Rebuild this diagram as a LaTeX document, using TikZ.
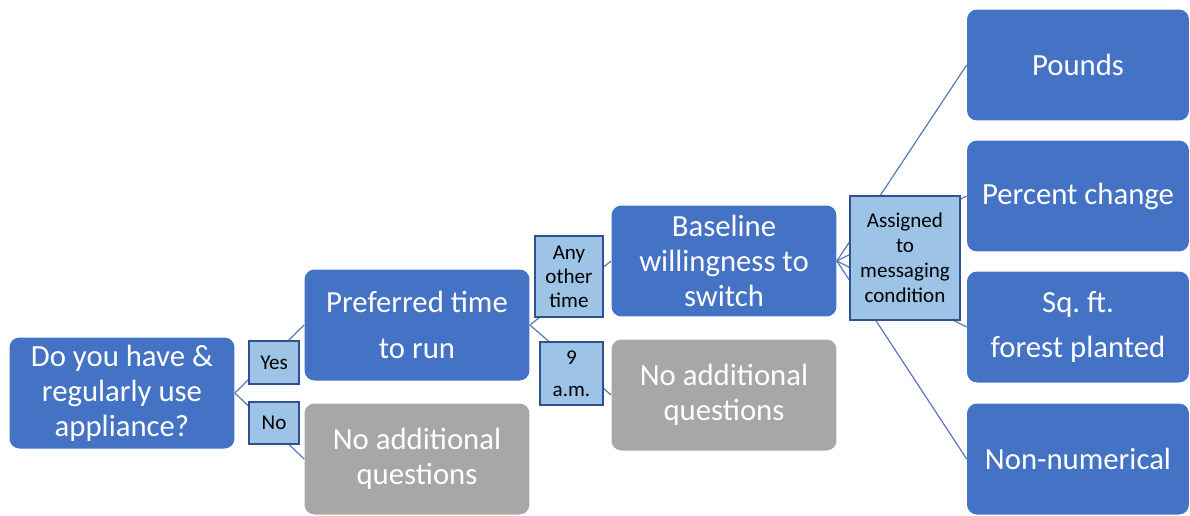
\documentclass[tikz,border=0pt]{standalone}
\usepackage{fontspec}
\setmainfont{Carlito}
\usepackage{tikz}
\usetikzlibrary{positioning}

\definecolor{boxblue}{HTML}{4472C4}
\definecolor{boxgray}{HTML}{A9A7A5}
\definecolor{tagfill}{HTML}{9DC3E6}
\definecolor{tagline}{HTML}{2F528F}
\definecolor{linkblue}{HTML}{5A7BB8}

\tikzset{
  qbox/.style={rounded corners=0.2cm, fill=boxblue, text=white, minimum width=4.5cm,
    minimum height=2.22cm, inner sep=2pt, align=center,
    font=\fontsize{17.5}{20}\selectfont},
  endbox/.style={qbox, fill=boxgray},
  tag/.style={draw=tagline, fill=tagfill, line width=0.6pt, inner sep=1pt,
    align=center, font=\fontsize{12}{14.2}\selectfont},
  link/.style={draw=linkblue, line width=0.7pt}
}

\begin{document}
\begin{tikzpicture}[x=0.02cm,y=-0.02cm]
      \useasboundingbox (0,0) rectangle (1190,515);
      % question boxes
      \node[qbox] (have) at (122,393) {Do you have \&\\regularly use\\appliance?};
      \node[qbox, font=\fontsize{17.5}{26.5}\selectfont] (pref) at (417,325) {Preferred time\\to run};
      \node[endbox] (none1) at (417,459) {No additional\\questions};
      \node[qbox] (base) at (724,261) {Baseline\\willingness to\\switch};
      \node[endbox] (none2) at (724,395) {No additional\\questions};
      % messaging conditions
      \node[qbox, minimum width=4.44cm] (lbs) at (1078,65) {Pounds};
      \node[qbox, minimum width=4.44cm] (pct) at (1078,196) {Percent change};
      \node[qbox, minimum width=4.44cm, font=\fontsize{17.5}{25.5}\selectfont] (sqft) at (1078,327) {Sq.\ ft.\\forest planted};
      \node[qbox, minimum width=4.44cm] (nonum) at (1078,459) {Non-numerical};
      % connectors
      \draw [link] (have.east) -- (pref.west);
      \draw [link] (have.east) -- (none1.west);
      \draw [link] (pref.east) -- (base.west);
      \draw [link] (pref.east) -- (none2.west);
      \draw [link] (base.east) -- (lbs.west);
      \draw [link] (base.east) -- (pct.west);
      \draw [link] (base.east) -- (sqft.west);
      \draw [link] (base.east) -- (nonum.west);
      % branch labels
      \node[tag, minimum width=1.0cm, minimum height=0.86cm] (yes) at (274,362.5) {Yes};
      \node[tag, minimum width=1.0cm, minimum height=0.84cm] (no) at (274,423) {No};
      \node[tag, minimum width=1.36cm, minimum height=1.62cm, font=\fontsize{12}{13.6}\selectfont] (other) at (569,276.5) {Any\\other\\time};
      \node[tag, minimum width=1.26cm, minimum height=1.26cm, font=\fontsize{12}{18}\selectfont] (nine) at (571.5,373.5) {9\\a.m.};
      \node[tag, minimum width=2.2cm, minimum height=2.48cm] (assign) at (905,258) {Assigned\\to\\messaging\\condition};
    \end{tikzpicture}
\end{document}
